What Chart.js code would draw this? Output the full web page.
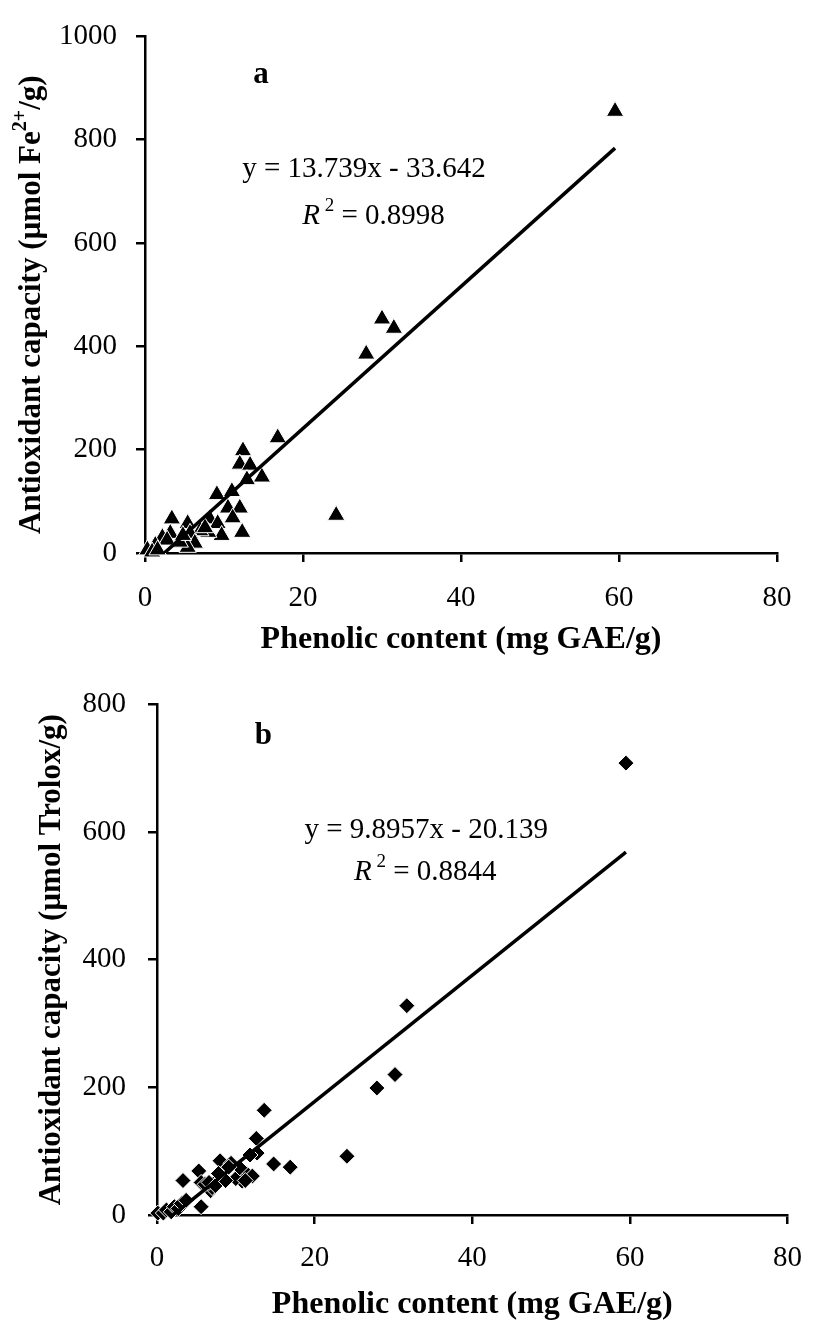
<!DOCTYPE html>
<html>
<head>
<meta charset="utf-8">
<title>Phenolic content vs antioxidant capacity</title>
<script src="https://cdn.jsdelivr.net/npm/chart.js"></script>
<style>
  body { margin: 0; background: #fff; }
  #wrap { position: relative; width: 819px; height: 1326px; }
  #chartA { position: absolute; left: 0; top: 0; }
  #chartB { position: absolute; left: 0; top: 665px; }
</style>
</head>
<body>
<div id="wrap">
  <canvas id="chartA" width="819" height="665"></canvas>
  <canvas id="chartB" width="819" height="661"></canvas>
</div>
<script>
// panel a: FRAP (umol Fe2+/g) against phenolics (mg GAE/g)
var phenolA = [59.5, 30.0, 31.5, 28.0, 24.2, 16.8, 12.4, 12.0, 13.3, 14.8, 12.9, 9.1, 11.0, 10.5, 12.0, 11.1,
               3.4, 5.4, 8.2, 9.2, 12.3, 9.7, 8.0, 7.0, 5.7, 6.3, 5.4, 3.2, 2.2, 2.8, 1.3, 0.3, 0.9, 1.6, 4.4, 7.6, 4.8];
var frapA   = [855, 453, 435, 385, 73, 223, 198, 172, 170, 147, 142, 113, 119, 87, 87, 68,
               66, 57, 66, 57, 40, 34, 40, 43, 38, 19, 11, 38, 30, 25, 15, 6, 2, 6, 21, 49, 34];

// panel b: TEAC (umol Trolox/g) against phenolics
var phenolB = [59.5, 31.7, 30.2, 27.9, 24.1, 16.9, 14.8, 13.6, 12.6, 12.7, 11.8, 8.0, 9.4, 5.3, 3.3, 5.6,
               11.3, 10.8, 10.0, 12.1, 7.5, 6.8, 5.6, 8.6, 7.0, 6.1, 10.5, 9.1, 6.6, 7.4, 8.7, 11.2, 7.8,
               0.1, 0.8, 1.2, 1.8, 2.2, 2.7, 3.1, 3.7];
var teacB   = [708, 328, 220, 199, 92, 75, 80, 164, 120, 97, 94, 85, 81, 69, 54, 51,
               66, 53, 57, 61, 53, 38, 13, 69, 43, 48, 74, 75, 51, 46, 54, 54, 65,
               3, 3, 8, 5, 13, 10, 18, 23];

var xTicks  = [0, 20, 40, 60, 80];
var yTicksA = [0, 200, 400, 600, 800, 1000];
var yTicksB = [0, 200, 400, 600, 800];

// excel trendlines as printed on the chart
var fitA = { slope: 13.739, intercept: -33.642, r2: '0.8998' };
var fitB = { slope: 9.8957, intercept: -20.139, r2: '0.8844' };

var serif = "'Liberation Serif', 'Times New Roman', Times, serif";

function font(size, weight, style) {
  return (style || 'normal') + ' ' + (weight || 'normal') + ' ' + size + 'px ' + serif;
}

function runWidth(ctx, parts) {
  var w = 0;
  parts.forEach(function (p) { ctx.font = font(p.size, p.weight, p.style); w += ctx.measureText(p.text).width; });
  return w;
}

function drawRun(ctx, parts, x, y) {
  parts.forEach(function (p) {
    ctx.font = font(p.size, p.weight, p.style);
    ctx.fillText(p.text, x, y - (p.rise || 0));
    x += ctx.measureText(p.text).width;
  });
}

function eqText(fit) {
  return 'y = ' + fit.slope + 'x - ' + Math.abs(fit.intercept);
}

function r2Parts(fit) {
  return [{ text: 'R', size: 29, style: 'italic' }, { text: ' 2', size: 19, rise: 10 }, { text: ' = ' + fit.r2, size: 29 }];
}

// draws the panel letter, equation, R2 and the rotated y title (has a superscript)
function notesPlugin(notes, yTitle) {
  return {
    id: 'notes',
    afterDraw: function (chart) {
      var ctx = chart.ctx, xs = chart.scales.x, ys = chart.scales.y, ca = chart.chartArea;
      ctx.save();
      ctx.fillStyle = '#000';
      ctx.textBaseline = 'middle';
      ctx.textAlign = 'left';
      notes.forEach(function (n) {
        drawRun(ctx, n.parts, xs.getPixelForValue(n.x), ys.getPixelForValue(n.y));
      });
      ctx.translate(ca.left - yTitle.gap, (ca.top + ca.bottom) / 2 + yTitle.shift);
      ctx.rotate(-Math.PI / 2);
      drawRun(ctx, yTitle.parts, -runWidth(ctx, yTitle.parts) / 2, 0);
      ctx.restore();
    }
  };
}

function scatterChart(id, px, py, fit, marker, yTicks, xTitle, lay, notes, yTitle) {
  var pts = px.map(function (x, i) { return { x: x, y: py[i] }; });
  var x0 = Math.min.apply(null, px), x1 = Math.max.apply(null, px);
  var trend = [x0, x1].map(function (x) { return { x: x, y: fit.slope * x + fit.intercept }; });
  var plain = function (v) { return String(v); };

  return new Chart(document.getElementById(id), {
    type: 'scatter',
    data: {
      datasets: [
        { type: 'line', data: trend, borderColor: '#000', borderWidth: 3.5, pointRadius: 0, fill: false, tension: 0 },
        { data: pts, pointStyle: marker.style, pointRadius: marker.r, backgroundColor: '#000',
          borderColor: '#fff', borderWidth: 1, clip: false }
      ]
    },
    options: {
      responsive: false,
      animation: false,
      events: [],
      layout: { padding: { top: lay.top, right: lay.right, left: 0, bottom: 0 } },
      plugins: { legend: { display: false }, tooltip: { enabled: false } },
      scales: {
        x: {
          type: 'linear', min: xTicks[0], max: xTicks[xTicks.length - 1],
          afterBuildTicks: function (s) { s.ticks = xTicks.map(function (v) { return { value: v }; }); },
          afterFit: function (s) { s.height = lay.xAxis; },
          ticks: { color: '#000', font: { family: serif, size: 29 }, padding: lay.xPad, maxRotation: 0, callback: plain },
          grid: { drawOnChartArea: false, drawTicks: true, tickLength: 9, color: '#000', lineWidth: 2.5 },
          border: { color: '#000', width: 2.5 },
          title: { display: true, text: xTitle, color: '#000',
                   font: { family: serif, size: 32, weight: 'bold' }, padding: { top: 0, bottom: lay.titlePad } }
        },
        y: {
          type: 'linear', min: yTicks[0], max: yTicks[yTicks.length - 1],
          afterBuildTicks: function (s) { s.ticks = yTicks.map(function (v) { return { value: v }; }); },
          afterFit: function (s) { s.width = lay.yAxis; },
          ticks: { color: '#000', font: { family: serif, size: 29 }, padding: lay.yPad, callback: plain },
          grid: { drawOnChartArea: false, drawTicks: true, tickLength: 9, color: '#000', lineWidth: 2.5 },
          border: { color: '#000', width: 2.5 }
        }
      }
    },
    plugins: [notesPlugin(notes, yTitle)]
  });
}

var bold = function (t) { return { text: t, size: 31, weight: 'bold' }; };

scatterChart('chartA', phenolA, frapA, fitA, { style: 'triangle', r: 10 }, yTicksA,
  'Phenolic content (mg GAE/g)',
  { top: 23, right: 42, xAxis: 112, xPad: 19, titlePad: 6, yAxis: 145, yPad: 19 },
  [
    { x: 13.7, y: 925, parts: [bold('a')] },
    { x: 12.3, y: 743, parts: [{ text: eqText(fitA), size: 29 }] },
    { x: 19.9, y: 652, parts: r2Parts(fitA) }
  ],
  { gap: 113, shift: 10, parts: [bold('Antioxidant capacity (µmol Fe'), { text: '2+', size: 20, weight: 'bold', rise: 11 }, bold('/g)')] }
);

scatterChart('chartB', phenolB, teacB, fitB, { style: 'rectRot', r: 8 }, yTicksB,
  'Phenolic content (mg GAE/g)',
  { top: 33, right: 19, xAxis: 111, xPad: 17, titlePad: 2, yAxis: 157, yPad: 22 },
  [
    { x: 12.4, y: 751, parts: [bold('b')] },
    { x: 18.7, y: 602, parts: [{ text: eqText(fitB), size: 29 }] },
    { x: 25.0, y: 537, parts: r2Parts(fitB) }
  ],
  { gap: 105, shift: 0, parts: [bold('Antioxidant capacity (µmol Trolox/g)')] }
);
</script>
</body>
</html>
